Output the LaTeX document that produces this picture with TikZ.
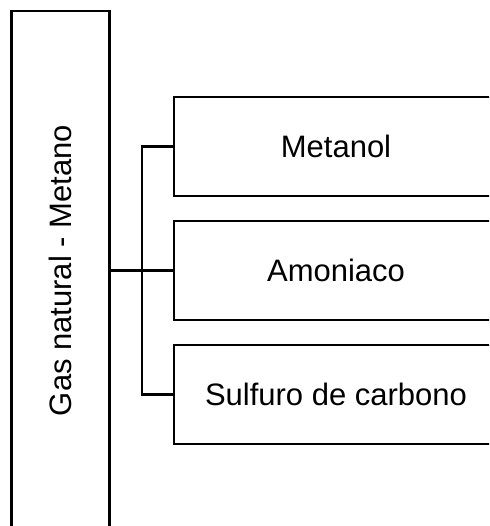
\documentclass[tikz,border=0pt]{standalone}
\usepackage{fontspec}
\setmainfont{Liberation Sans}
\usetikzlibrary{positioning}
\tikzset{gbox/.style={rectangle,draw,line width=2.2pt,outer sep=0pt,minimum width=98pt,minimum height=519pt},
	 pbox/.style={rectangle,draw,line width=2.2pt,outer sep=0pt,minimum width=324pt,minimum height=99pt},
	 node distance = 25pt
	 }

\begin{document}
\begin{tikzpicture}[x=1pt,y=-1pt,font=\fontsize{31}{37}\selectfont] % derivados del metano
        \useasboundingbox (0,0) rectangle (489,526);
        \clip (0,0) rectangle (489,526);
        \node[gbox] (gas) at (60.5,270.5) {};
        \node[rotate=90] (gastxt) at (gas.center) {Gas natural - Metano};
        \node[pbox] (met) at (336,146.5) {Metanol};
        \node[pbox] (amo) [below=of met] {Amoniaco};
        \node[pbox] (sul) [below=of amo] {Sulfuro de carbono};
        \coordinate (fork) at (142,270.5);
        \draw[line width=2.2pt] (gas.east) to (fork) to (amo.west);
        \draw[line width=2.2pt] (met.west) -| (fork) |- (sul.west);
     \end{tikzpicture}
\end{document}
